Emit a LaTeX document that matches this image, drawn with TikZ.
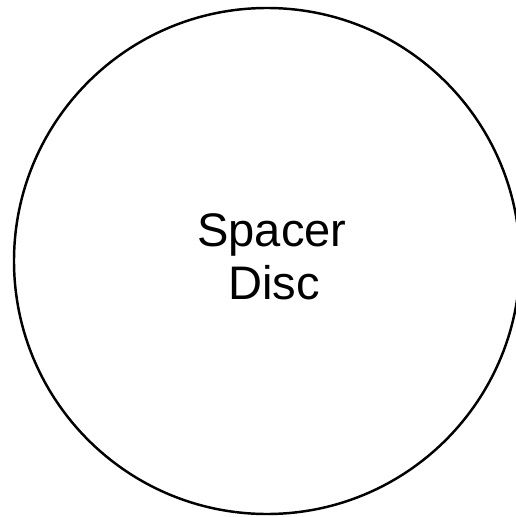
\documentclass[tikz,border=0pt]{standalone}
\usepackage{fontspec}
\setmainfont{Liberation Sans}
\usetikzlibrary{positioning}

\tikzset{
  discline/.style={black, line width=1.4pt},
  disclabel/.style={font=\fontsize{26.8}{30}\selectfont, inner sep=0pt, anchor=base}
}

\begin{document}
\begin{tikzpicture}[x=0.02cm, y=-0.02cm]
\useasboundingbox (0,0) rectangle (515,517);
\draw[discline] (267,261) circle[radius=253];
\node[disclabel] (spacer) at (272,246) {Spacer};
\node[disclabel] (disc) at (274,299) {Disc};
\end{tikzpicture}
\end{document}
